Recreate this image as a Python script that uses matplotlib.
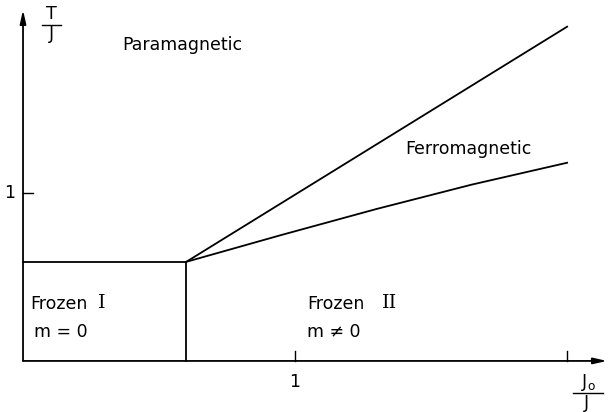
import matplotlib
matplotlib.use("Agg")
import matplotlib.pyplot as plt
import numpy as np

# phase boundaries (J0/J, T/J)
para_ferro_x = [0.6, 2.0]
para_ferro_y = [0.59, 1.99]
ferro_frozen_x = [0.6, 0.95, 1.3, 1.65, 2.0]
ferro_frozen_y = [0.59, 0.75, 0.905, 1.05, 1.18]
frozen_top_x = [0.0, 0.6]
frozen_top_y = [0.59, 0.59]
frozen_wall_x = [0.6, 0.6]
frozen_wall_y = [0.0, 0.59]

x_ticks = [1, 2]
x_tick_labels = ["1", ""]
y_ticks = [1]
y_tick_labels = ["1"]

LW = 1.3
FS = 12.5

fig = plt.figure(figsize=(6.09, 4.12), dpi=100)
ax = fig.add_axes([0, 0, 1, 1])
ax.set_xlim(-0.0846, 2.154)
ax.set_ylim(-0.304, 2.149)
ax.axis("off")

# axes with arrows
ax.annotate("", xy=(2.147, 0), xytext=(0, 0),
            arrowprops=dict(arrowstyle="-|>,head_length=0.8,head_width=0.18", color="black", lw=LW, shrinkA=0, shrinkB=0))
ax.annotate("", xy=(0, 2.09), xytext=(0, 0),
            arrowprops=dict(arrowstyle="-|>,head_length=0.8,head_width=0.18", color="black", lw=LW, shrinkA=0, shrinkB=0))

# ticks
for xt, lab in zip(x_ticks, x_tick_labels):
    ax.plot([xt, xt], [0, 0.06], color="black", lw=1.0)
    ax.text(xt, -0.07, lab, ha="center", va="top", fontsize=FS)
for yt, lab in zip(y_ticks, y_tick_labels):
    ax.plot([0, 0.035], [yt, yt], color="black", lw=1.0)
    ax.text(-0.03, yt, lab, ha="right", va="center", fontsize=FS)

# phase boundaries
ax.plot(para_ferro_x, para_ferro_y, color="black", lw=LW)
ax.plot(ferro_frozen_x, ferro_frozen_y, color="black", lw=LW)
ax.plot(frozen_top_x, frozen_top_y, color="black", lw=LW)
ax.plot(frozen_wall_x, frozen_wall_y, color="black", lw=LW)

# axis labels as fractions
ax.text(0.105, 2.065, "T", ha="center", va="center", fontsize=FS)
ax.plot([0.07, 0.14], [2.0, 2.0], color="black", lw=1.0)
ax.text(0.105, 1.945, "J", ha="center", va="center", fontsize=FS)

ax.text(2.077, -0.131, "J$_\\mathrm{o}$", ha="center", va="center", fontsize=FS)
ax.plot([2.022, 2.132], [-0.19, -0.19], color="black", lw=1.0)
ax.text(2.07, -0.25, "J", ha="center", va="center", fontsize=FS)

# region labels
ax.text(0.364, 1.88, "Paramagnetic", ha="left", va="center", fontsize=FS)
ax.text(1.404, 1.26, "Ferromagnetic", ha="left", va="center", fontsize=FS)
ax.text(0.026, 0.34, "Frozen", ha="left", va="center", fontsize=FS)
ax.text(0.276, 0.345, "I", ha="left", va="center", fontsize=14, family="DejaVu Serif")
ax.text(0.04, 0.17, "m = 0", ha="left", va="center", fontsize=FS)
ax.text(1.044, 0.34, "Frozen", ha="left", va="center", fontsize=FS)
ax.text(1.32, 0.345, "II", ha="left", va="center", fontsize=14, family="DejaVu Serif")
ax.text(1.044, 0.17, "m \u2260 0", ha="left", va="center", fontsize=FS)

fig.savefig("out.png", dpi=100, facecolor="white")
